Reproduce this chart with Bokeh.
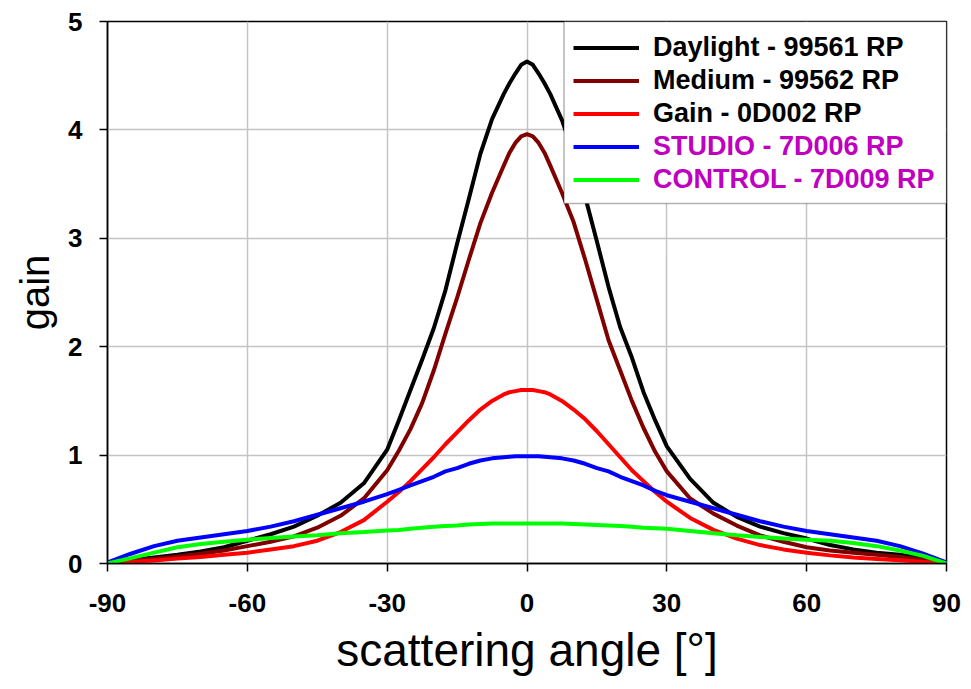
from bokeh.plotting import figure
from bokeh.models import Range1d, FixedTicker, Legend, LegendItem, BoxAnnotation
from bokeh.embed import file_html
from bokeh.resources import INLINE

angles = [-90, -85, -80, -75, -70, -65, -60, -55, -50, -45, -40, -35, -30, -27.5, -25, -22.5,
          -20, -17.5, -15, -12.5, -10, -7.5, -5, -3.75, -2.5, -1.25, 0, 1.25, 2.5, 3.75, 5,
          7.5, 10, 12.5, 15, 17.5, 20, 22.5, 25, 27.5, 30, 35, 40, 45, 50, 55, 60, 65, 70,
          75, 80, 85, 90]

daylight = [0.0, 0.03, 0.055, 0.08, 0.11, 0.15, 0.21, 0.27, 0.34, 0.44, 0.56, 0.74, 1.05, 1.32,
            1.6, 1.88, 2.17, 2.52, 2.95, 3.36, 3.78, 4.1, 4.33, 4.43, 4.52, 4.6, 4.63,
            4.6, 4.52, 4.43, 4.33, 4.09, 3.78, 3.38, 2.97, 2.55, 2.18, 1.9, 1.58, 1.32, 1.08,
            0.78, 0.56, 0.43, 0.34, 0.28, 0.23, 0.17, 0.13, 0.10, 0.08, 0.05, 0.0]
medium = [0.0, 0.025, 0.045, 0.065, 0.09, 0.12, 0.16, 0.2, 0.25, 0.33, 0.44, 0.6, 0.86, 1.04,
          1.24, 1.48, 1.78, 2.12, 2.45, 2.8, 3.14, 3.42, 3.67, 3.79, 3.88, 3.94, 3.96,
          3.94, 3.88, 3.79, 3.67, 3.42, 3.15, 2.8, 2.43, 2.06, 1.78, 1.5, 1.25, 1.03, 0.85,
          0.6, 0.46, 0.35, 0.26, 0.2, 0.15, 0.12, 0.1, 0.08, 0.06, 0.035, 0.0]
gain = [0.0, 0.015, 0.028, 0.045, 0.06, 0.08, 0.1, 0.13, 0.16, 0.21, 0.29, 0.4, 0.57, 0.66,
        0.76, 0.87, 0.98, 1.1, 1.21, 1.32, 1.42, 1.5, 1.56, 1.58, 1.59, 1.6, 1.6,
        1.6, 1.59, 1.58, 1.56, 1.5, 1.42, 1.33, 1.22, 1.1, 0.98, 0.86, 0.76, 0.66, 0.57,
        0.42, 0.31, 0.23, 0.17, 0.13, 0.1, 0.075, 0.055, 0.042, 0.03, 0.015, 0.0]
studio = [0.01, 0.09, 0.16, 0.21, 0.24, 0.27, 0.30, 0.34, 0.39, 0.45, 0.51, 0.57, 0.64, 0.68,
          0.72, 0.76, 0.8, 0.85, 0.88, 0.92, 0.95, 0.97, 0.98, 0.985, 0.99, 0.99, 0.99,
          0.99, 0.99, 0.985, 0.98, 0.97, 0.95, 0.92, 0.88, 0.85, 0.8, 0.76, 0.72, 0.67, 0.63,
          0.57, 0.51, 0.45, 0.39, 0.34, 0.30, 0.27, 0.24, 0.21, 0.16, 0.09, 0.01]
control = [0.0, 0.05, 0.1, 0.15, 0.18, 0.2, 0.22, 0.235, 0.25, 0.26, 0.28, 0.29, 0.305, 0.31,
           0.32, 0.33, 0.34, 0.345, 0.35, 0.36, 0.365, 0.37, 0.37, 0.37, 0.37, 0.37, 0.37,
           0.37, 0.37, 0.37, 0.37, 0.37, 0.365, 0.36, 0.355, 0.35, 0.345, 0.34, 0.33, 0.325, 0.32,
           0.3, 0.28, 0.26, 0.245, 0.23, 0.22, 0.21, 0.19, 0.16, 0.12, 0.07, 0.0]

series_names = ["Daylight - 99561 RP", "Medium - 99562 RP", "Gain - 0D002 RP",
                "STUDIO - 7D006 RP", "CONTROL - 7D009 RP"]
series_values = [daylight, medium, gain, studio, control]
series_colors = ["#000000", "#800000", "#ff0000", "#0000ff", "#00ff00"]

x_ticks = [-90, -60, -30, 0, 30, 60, 90]
x_tick_labels = ["-90", "-60", "-30", "0", "30", "60", "90"]
y_ticks = [0, 1, 2, 3, 4, 5]

FONT = "Liberation Sans"

p = figure(width=963, height=681, output_backend="svg", toolbar_location=None,
           x_range=Range1d(-90, 90), y_range=Range1d(0, 5),
           min_border_left=107, min_border_right=17, min_border_top=21, min_border_bottom=118)

p.outline_line_color = "#000000"
p.outline_line_width = 1.5
p.background_fill_color = "white"
p.border_fill_color = "white"

for ax, ticks in ((p.xaxis[0], x_ticks), (p.yaxis[0], y_ticks)):
    ax.ticker = FixedTicker(ticks=ticks)
    ax.minor_tick_line_color = None
    ax.major_tick_in = 0
    ax.major_tick_out = 8
    ax.major_tick_line_width = 1.5
    ax.axis_line_width = 1.5
    ax.axis_line_color = "#000000"
    ax.major_tick_line_color = "#000000"
    ax.major_label_text_font = FONT
    ax.major_label_text_font_style = "bold"
    ax.major_label_text_font_size = "26px"
    ax.major_label_text_color = "#000000"
    ax.axis_label_text_font = FONT
    ax.axis_label_text_font_style = "normal"
    ax.axis_label_text_color = "#000000"

p.xaxis[0].major_label_overrides = {t: s for t, s in zip(x_ticks, x_tick_labels)}
p.xaxis[0].axis_label = "scattering angle [°]"
p.yaxis[0].axis_label = "gain"
p.xaxis[0].axis_label_text_font_size = "46px"
p.yaxis[0].axis_label_text_font_size = "40px"
p.xaxis[0].major_label_standoff = 22
p.xaxis[0].axis_label_standoff = 9
p.yaxis[0].major_label_standoff = 17
p.yaxis[0].axis_label_standoff = 8

p.xgrid.ticker = FixedTicker(ticks=x_ticks)
p.ygrid.ticker = FixedTicker(ticks=y_ticks)
for g in (p.xgrid[0], p.ygrid[0]):
    g.grid_line_color = "#c4c4c4"
    g.grid_line_width = 1.5

renderers = []
for name, vals, col in zip(series_names, series_values, series_colors):
    r = p.line(angles, vals, line_color=col, line_width=4, line_join="round")
    renderers.append(r)

# legend background / border box
box = BoxAnnotation(left=7.94, right=90, top=5, bottom=3.32,
                    fill_color="white", fill_alpha=1.0,
                    line_color="#000000", line_width=1.5)
p.add_layout(box)

def make_legend(items, color, loc):
    lg = Legend(items=items, location=loc, orientation="vertical",
                background_fill_alpha=0.0, border_line_alpha=0.0,
                label_text_font=FONT, label_text_font_style="bold",
                label_text_font_size="27px", label_text_color=color,
                glyph_width=66, glyph_height=33, label_height=33, spacing=0,
                label_standoff=14, padding=10, margin=0)
    return lg

items_a = [LegendItem(label=series_names[i], renderers=[renderers[i]]) for i in range(3)]
items_b = [LegendItem(label=series_names[i], renderers=[renderers[i]]) for i in range(3, 5)]
leg_a = make_legend(items_a, "#000000", (456, 423))
leg_b = make_legend(items_b, "#bf00bf", (456, 357))
p.add_layout(leg_a, "center")
p.add_layout(leg_b, "center")

open("out.html", "w").write(file_html(p, INLINE))
